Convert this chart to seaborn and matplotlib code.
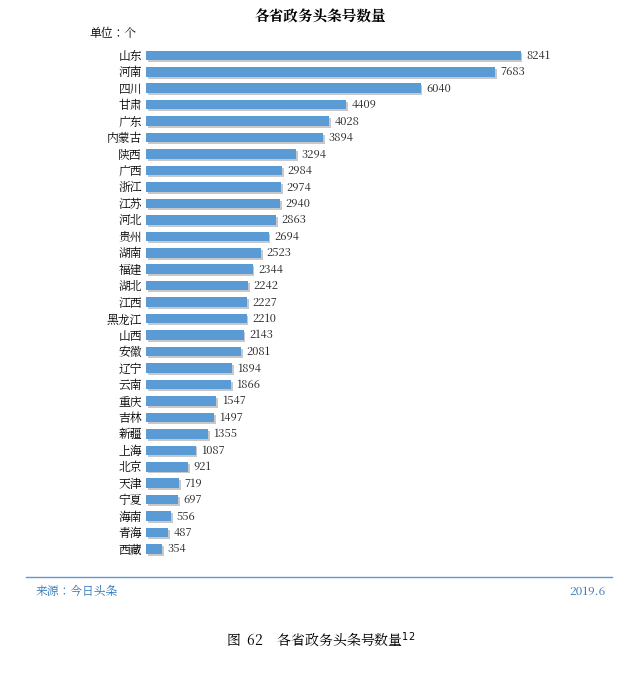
import matplotlib
matplotlib.use("Agg")
import matplotlib.pyplot as plt
from matplotlib import font_manager as fm
import seaborn as sns
import pandas as pd

provinces = ["山东","河南","四川","甘肃","广东","内蒙古","陕西","广西","浙江","江苏","河北","贵州","湖南","福建","湖北","江西","黑龙江","山西","安徽","辽宁","云南","重庆","吉林","新疆","上海","北京","天津","宁夏","海南","青海","西藏"]
counts = [8241,7683,6040,4409,4028,3894,3294,2984,2974,2940,2863,2694,2523,2344,2242,2227,2210,2143,2081,1894,1866,1547,1497,1355,1087,921,719,697,556,487,354]

cjk = None
for f in fm.findSystemFonts():
    if "CJK" in f or "cjk" in f.lower():
        cjk = f
        if "Regular" in f:
            break
families = []
if cjk:
    fm.fontManager.addfont(cjk)
    families.append(fm.FontProperties(fname=cjk).get_name())
families += ["Noto Sans CJK SC", "Noto Sans CJK JP", "DejaVu Sans"]
plt.rcParams["font.family"] = "sans-serif"
plt.rcParams["font.sans-serif"] = families
plt.rcParams["axes.unicode_minus"] = False

df = pd.DataFrame({"省份": provinces, "数量": counts})

fig = plt.figure(figsize=(6.41, 6.73), dpi=100)
ax = fig.add_axes([0.228, 0.172, 0.638, 0.758])
ax.barh([i + 0.12 for i in range(len(counts))], counts, height=0.58, left=40, color="#c8c8c8", zorder=1)
sns.barplot(data=df, y="省份", x="数量", orient="h", color="#5b9bd5", saturation=1, width=0.58, ax=ax, zorder=2)
ax.set_ylim(len(counts) - 0.5, -0.5)
ax.set_xlim(0, 9000)
for i, v in enumerate(counts):
    ax.text(v + 120, i + 0.02, str(v), va="center", ha="left", fontsize=8, color="#222222")
ax.set_xlabel(""); ax.set_ylabel("")
ax.set_xticks([])
ax.tick_params(axis="y", length=0, labelsize=8.5, pad=3)
for s in ax.spines.values():
    s.set_visible(False)

fig.text(0.5, 0.975, "各省政务头条号数量", ha="center", va="center", fontsize=10.5, fontweight="bold")
fig.text(0.14, 0.950, "单位：个", ha="left", va="center", fontsize=8.5)
fig.add_artist(plt.Line2D([0.04, 0.955], [0.142, 0.142], color="#5b9bd5", lw=1))
fig.text(0.055, 0.121, "来源：今日头条", ha="left", va="center", fontsize=8.5, color="#2e75b6")
fig.text(0.945, 0.121, "2019.6", ha="right", va="center", fontsize=8.5, color="#2e75b6")
fig.text(0.5, 0.048, "图  62    各省政务头条号数量$^{12}$", ha="center", va="center", fontsize=10)
fig.savefig("out.png", dpi=100, facecolor="white")
